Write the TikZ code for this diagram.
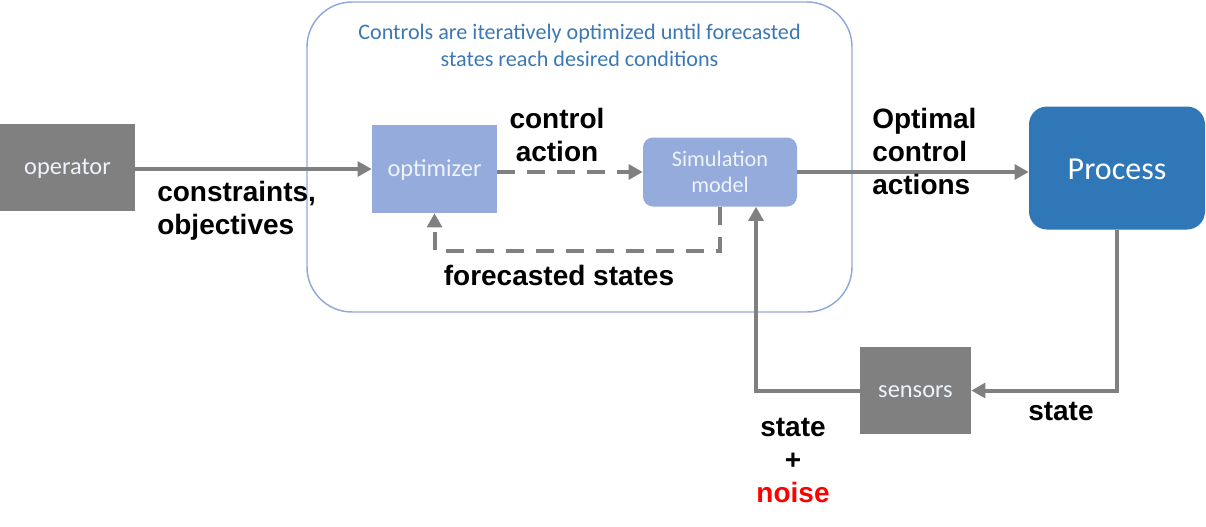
\documentclass[tikz,border=0pt]{standalone}
\usepackage{fontspec}
\setmainfont{Liberation Sans}
\newfontfamily\boxfont{Carlito}
\usetikzlibrary{arrows.meta, positioning, calc}
\definecolor{greyc}{HTML}{808080}
\definecolor{optc}{HTML}{95ABDB}
\definecolor{procc}{HTML}{2F77B7}
\definecolor{framec}{HTML}{8FA9DB}
\definecolor{titlec}{HTML}{3C78B5}
\definecolor{boxtext}{HTML}{EEF3FC}
\tikzset{block/.style={rectangle, inner sep=0pt, text=boxtext, font=\boxfont\fontsize{18.3}{21}\selectfont}}
\tikzset{oneline/.style={text height=11pt, text depth=0.2pt}}
\tikzset{flow/.style={line width=3pt, greyc, -{Triangle[length=10.5pt, width=11pt]}}}
\tikzset{flowd/.style={flow, dash pattern=on 13.5pt off 9pt}}
\tikzset{lbl/.style={inner sep=0pt, font=\bfseries\fontsize{21}{24.75}\selectfont}}

\begin{document}
\begin{tikzpicture}[x=0.75pt, y=-0.75pt]
		\useasboundingbox (0,0) rectangle (1206,526);

		% Loop frame
		\draw[framec, line width=1.1pt, rounded corners=33.75pt] (307,2) rectangle (852,312);
		\node[inner sep=0pt, text=titlec, align=center, font=\boxfont\fontsize{16.6}{20}\selectfont] (title) at (579.5,45.5)
			{Controls are iteratively optimized until forecasted\\states reach desired conditions};

		% Boxes
		\node[block, oneline, fill=greyc, minimum width=101.25pt, minimum height=65.25pt] (operator) at (67.5,167.5) {operator};
		\node[block, oneline, fill=optc, minimum width=93.75pt, minimum height=66pt] (optimizer) at (434.5,169) {optimizer};
		\node[block, align=center, fill=optc, rounded corners=7.5pt, minimum width=115.5pt, minimum height=51.75pt, font=\boxfont\fontsize{16.7}{19.5}\selectfont] (sim) at (720,172) {Simulation\\model};
		\node[block, fill=procc, rounded corners=13.5pt, minimum width=132pt, minimum height=92.25pt, text height=17.2pt, text depth=0.2pt, font=\boxfont\fontsize{24}{28}\selectfont, text=white] (process) at (1117,168) {Process};
		\node[block, oneline, fill=greyc, minimum width=83.25pt, minimum height=65.25pt] (sensors) at (915.5,390.5) {sensors};
		\coordinate (simin) at ([xshift=27pt]sim.south);

		% Arrows
		\draw[flow] (operator.east |- optimizer.west) -- (optimizer.west);
		\draw[flowd] (optimizer.east |- sim.west) -- (sim.west);
		\draw[flowd] (sim.south) -- ++(0,44) -| (optimizer.south);
		\draw[flow] (sim.east) -- (sim.east -| process.west);
		\draw[flow] (process.south) |- (sensors.east);
		\draw[flow] (sensors.west) -| (simin);

		% Labels
		\node[lbl, anchor=west, align=left] (constr) at (157,211) {constraints,\\objectives};
		\node[lbl, align=center] (ctrl) at (557,135) {control\\action};
		\node[lbl, anchor=west, align=left] (optimal) at (872,151) {Optimal\\control\\actions};
		\node[lbl, anchor=base] (forecast) at (559,285) {forecasted states};
		\node[lbl, align=center] (noisy) at (793,460) {state\\+\\\textcolor{red}{noise}};
		\node[lbl, anchor=base west] (state) at (1028,420) {state};
	\end{tikzpicture}
\end{document}
